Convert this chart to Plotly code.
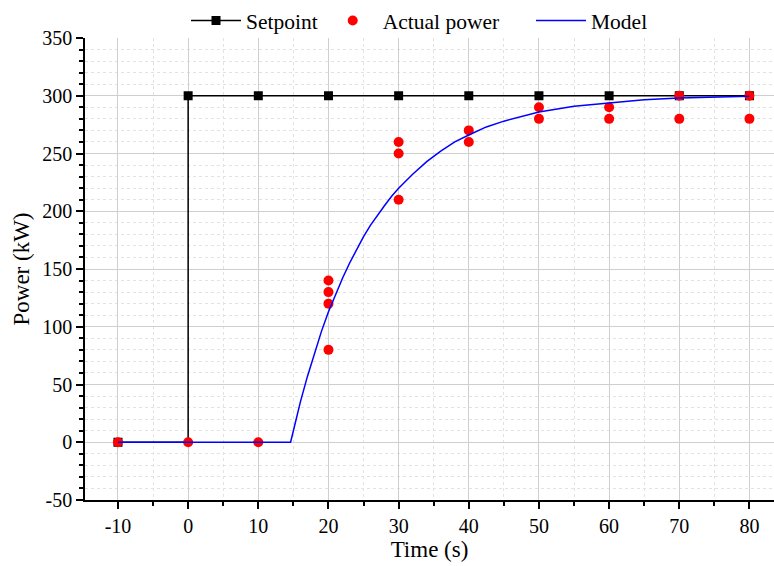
import plotly.graph_objects as go

# Setpoint (step at t=0)
setpoint_t = [-10, 0, 10, 20, 30, 40, 50, 60, 70, 80]
setpoint_p = [0, 300, 300, 300, 300, 300, 300, 300, 300, 300]

# Actual power measurements
actual_t = [-10, 0, 10, 20, 20, 20, 20, 30, 30, 30, 40, 40, 50, 50, 60, 60, 70, 70, 80, 80]
actual_p = [0, 0, 0, 80, 120, 130, 140, 210, 250, 260, 260, 270, 280, 290, 280, 290, 280, 300, 280, 300]

# Model curve
model_t = [-10, 14.6, 15, 16, 17, 18, 19, 20, 21, 22, 23, 24, 25, 26, 27, 28, 29, 30,
           32, 34, 36, 38, 40, 42.5, 45, 47.5, 50, 55, 60, 65, 70, 75, 80]
model_p = [0, 0, 10, 35, 57, 77, 96, 113, 128, 142, 155, 167, 178, 188, 197, 205, 213, 220,
           232, 243, 252, 260, 266, 273, 278, 282, 286, 291, 294, 296.5, 298, 299, 299.5]

x_ticks = [-10, 0, 10, 20, 30, 40, 50, 60, 70, 80]
y_ticks = [-50, 0, 50, 100, 150, 200, 250, 300, 350]

FONT = "Liberation Serif"
NB = "\u00a0"

fig = go.Figure()
fig.add_trace(go.Scatter(
    x=setpoint_t, y=setpoint_p, name="Setpoint", mode="lines+markers",
    line=dict(color="black", width=1.5, shape="hv"),
    marker=dict(symbol="square", size=9, color="black"),
))
fig.add_trace(go.Scatter(
    x=actual_t, y=actual_p, name="Actual power" + NB * 5, mode="markers",
    marker=dict(symbol="circle", size=10, color="red"),
))
fig.add_trace(go.Scatter(
    x=model_t, y=model_p, name="Model", mode="lines",
    line=dict(color="blue", width=1.5),
))

axis_common = dict(
    showline=True, linecolor="black", linewidth=1.5,
    ticks="outside", tickcolor="black", tickwidth=1.5, ticklen=7,
    showgrid=True, gridcolor="#cfcfcf", gridwidth=1,
    zeroline=False, mirror=False,
    tickfont=dict(family=FONT, size=20, color="black"),
)

fig.update_xaxes(
    **axis_common,
    range=[-14.7, 83.5], tickvals=x_ticks, ticktext=[str(v) for v in x_ticks],
    title=dict(text="Time (s)", font=dict(family=FONT, size=23, color="black"), standoff=4),
    minor=dict(dtick=5, tick0=0, ticks="outside", ticklen=4, tickcolor="black", tickwidth=1.5,
               showgrid=True, gridcolor="#e2e2e2", griddash="dot", gridwidth=1),
)
fig.update_yaxes(
    **axis_common,
    range=[-50, 350], tickvals=y_ticks, ticktext=[str(v) for v in y_ticks],
    title=dict(text="Power (kW)", font=dict(family=FONT, size=23, color="black"), standoff=6),
    minor=dict(dtick=10, tick0=0, ticks="outside", ticklen=4, tickcolor="black", tickwidth=1.5,
               showgrid=True, gridcolor="#e2e2e2", griddash="dot", gridwidth=1),
)

fig.update_layout(
    width=774, height=566,
    margin=dict(l=85, r=0, t=38, b=66, autoexpand=False),
    paper_bgcolor="white", plot_bgcolor="white",
    font=dict(family=FONT, size=20, color="black"),
    legend=dict(orientation="h", x=0.542, xanchor="center", xref="container",
                y=1.0, yanchor="top", yref="container",
                font=dict(family=FONT, size=21.5, color="black"), bgcolor="rgba(0,0,0,0)",
                itemwidth=50),
    showlegend=True,
)

fig.write_html("out.html")
